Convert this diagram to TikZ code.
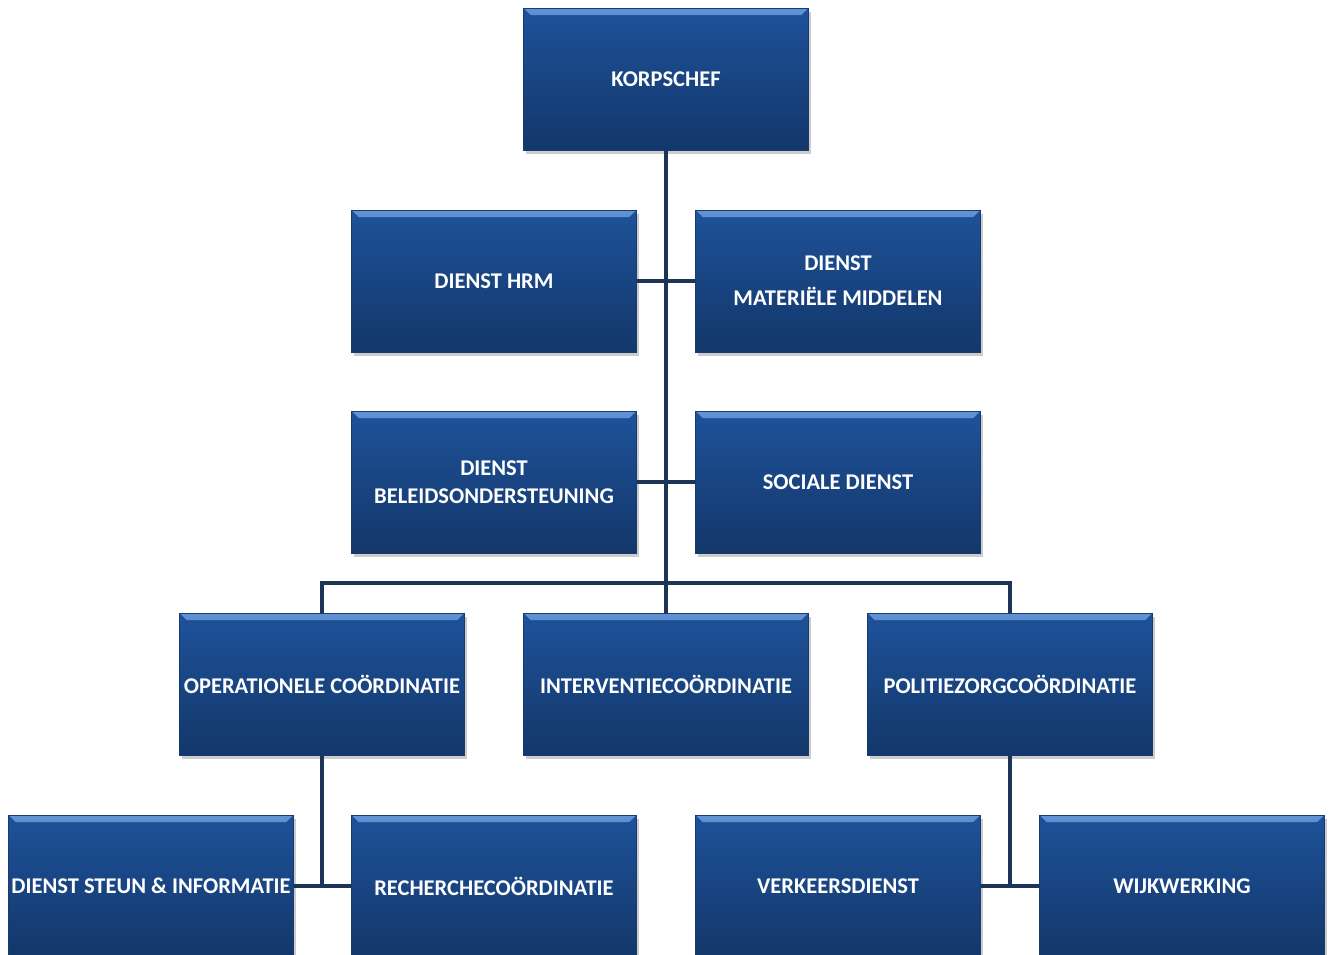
\documentclass[tikz,border=0pt]{standalone}
\usepackage{fontspec}
\setmainfont{Carlito}
\usetikzlibrary{shadows}
\definecolor{boxtop}{RGB}{30,82,154}
\definecolor{boxbot}{RGB}{19,55,106}
\definecolor{boxhi}{RGB}{96,146,212}
\definecolor{boxedge}{RGB}{24,60,112}
\definecolor{linkcol}{RGB}{30,52,86}

\begin{document}
\begin{tikzpicture}[x=0.02cm,y=-0.02cm,
  box/.style={minimum width=5.7cm,minimum height=2.84cm,inner sep=0pt,align=center,
    text=white,font=\bfseries\fontsize{12.8}{16}\selectfont,
    top color=boxtop,bottom color=boxbot,draw=boxedge,line width=0.4pt,
    drop shadow={shadow xshift=0.05cm,shadow yshift=-0.08cm,opacity=0.4},
    path picture={\shade[top color=boxhi,bottom color=boxtop]
      (path picture bounding box.north west) -- (path picture bounding box.north east)
      -- ([xshift=-0.14cm,yshift=-0.14cm]path picture bounding box.north east)
      -- ([xshift=0.14cm,yshift=-0.14cm]path picture bounding box.north west) -- cycle;}},
  link/.style={draw=linkcol,line width=2.2pt}]
\useasboundingbox (0,0) rectangle (1330,955);

\node[box] (korps) at (666,79) {KORPSCHEF};
\node[box] (hrm) at (494,281) {DIENST HRM};
\node[box] (mat) at (838,281) {DIENST\\[4pt]MATERIËLE MIDDELEN};
\node[box] (beleid) at (494,482) {DIENST\\BELEIDSONDERSTEUNING};
\node[box] (sociaal) at (838,482) {SOCIALE DIENST};
\node[box] (oper) at (322,684) {OPERATIONELE COÖRDINATIE};
\node[box] (interv) at (666,684) {INTERVENTIECOÖRDINATIE};
\node[box] (polz) at (1010,684) {POLITIEZORGCOÖRDINATIE};
\node[box] (steun) at (151,886) {DIENST STEUN \& INFORMATIE};
\node[box] (rech) at (494,886) {RECHERCHECOÖRDINATIE};
\node[box] (verk) at (838,886) {VERKEERSDIENST};
\node[box] (wijk) at (1182,886) {WIJKWERKING};

\coordinate (bus) at (666,583);
\draw[link] (korps.south) -- (interv.north);
\draw[link] (hrm.east) -- (mat.west);
\draw[link] (beleid.east) -- (sociaal.west);
\draw[link] (oper.north) |- (bus) -| (polz.north);
\draw[link] (oper.south) |- (steun.east);
\draw[link] (steun.east) -- (rech.west);
\draw[link] (polz.south) |- (verk.east);
\draw[link] (verk.east) -- (wijk.west);
\end{tikzpicture}
\end{document}
